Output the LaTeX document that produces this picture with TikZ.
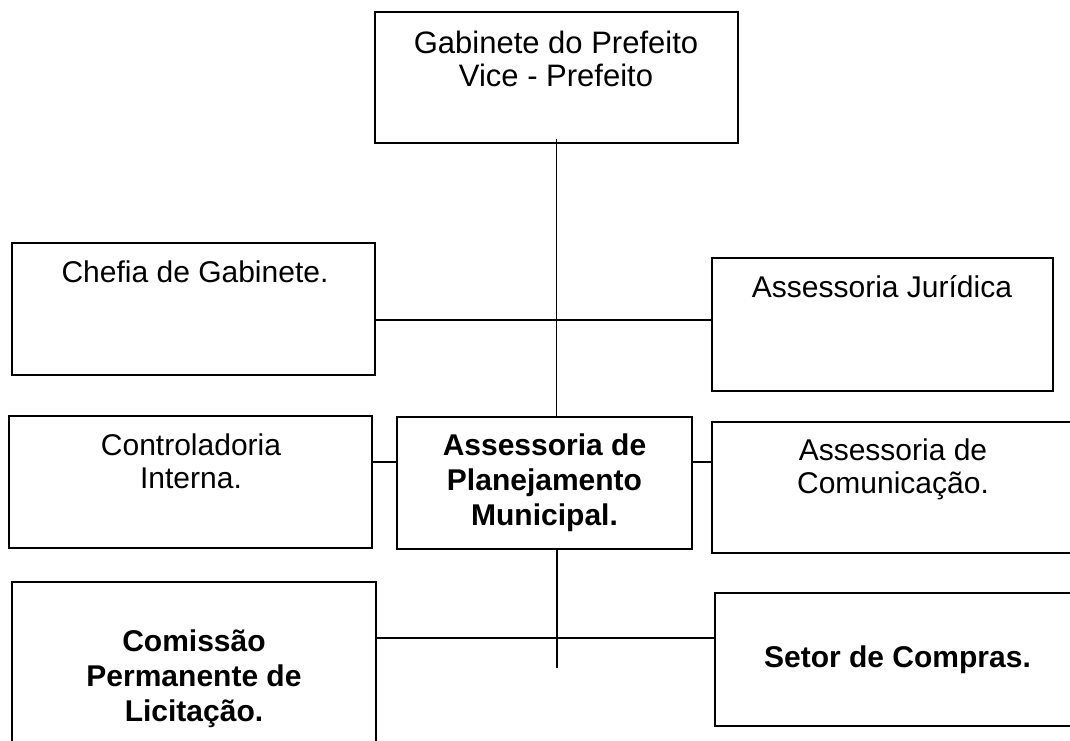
\documentclass[tikz,border=0pt]{standalone}
\usepackage{fontspec}
\setmainfont{Liberation Sans}
\begin{document}
\begin{tikzpicture}[x=1pt,y=-1pt,
  box/.style={draw=black, line width=1.6pt, rectangle, inner sep=0pt, outer sep=0pt},
  txt/.style={align=center, inner sep=0pt, font=\fontsize{30}{33}\selectfont},
  btxt/.style={align=center, font=\fontsize{30}{35}\selectfont\bfseries},
  conn/.style={draw=black, line width=1.6pt}]
\useasboundingbox (0,0) rectangle (1070,740);
\clip (0,0) rectangle (1070,740);
\fill[white] (0,0) rectangle (1070,740);
% boxes
\node[box, minimum width=363, minimum height=131] (top) at (556.5,77.5) {};
\node[box, minimum width=363, minimum height=132] (chefia) at (193.5,309) {};
\node[box, minimum width=341, minimum height=133] (jur) at (882.5,324.5) {};
\node[box, minimum width=363, minimum height=132] (ctrl) at (190.5,482) {};
\node[box, minimum width=295, minimum height=132, btxt] (apm) at (544.5,483)
  {Assessoria de\\Planejamento\\Municipal.};
\node[box, minimum width=362, minimum height=131] (com) at (893,487.5) {};
\node[box, minimum width=364, minimum height=194, btxt] (cpl) at (194,679)
  {Comissão\\Permanente de\\Licitação.};
\node[box, minimum width=365, minimum height=133, btxt] (setor) at (897.5,659.5)
  {Setor de Compras.};
% texts placed near box tops
\node[txt, font=\fontsize{31}{33}\selectfont] (toptxt) at (556,59) {Gabinete do Prefeito\\Vice - Prefeito};
\node[txt] (chefiatxt) at (195,272) {Chefia de Gabinete.};
\node[txt] (jurtxt) at (882,287) {Assessoria Jurídica};
\node[txt] (ctrltxt) at (191,461.5) {Controladoria\\Interna.};
\node[txt] (comtxt) at (893,469) {Assessoria de\\Comunicação.};
% connectors
\coordinate (jn) at (556,320);
\coordinate (mid) at (544,462);
\coordinate (bj) at (557,638);
\coordinate (bend) at (557,668);
\draw[conn] ([yshift=4pt]top.south) -- (top.south |- apm.north);
\draw[conn] (chefia.east |- jn) -- (jur.west |- jn);
\draw[conn] (ctrl.east |- mid) -- (apm.west |- mid);
\draw[conn] (apm.east |- mid) -- (com.west |- mid);
\draw[conn] (apm.south -| bend) -- (bend);
\draw[conn] (cpl.east |- bj) -- (setor.west |- bj);
\end{tikzpicture}
\end{document}
